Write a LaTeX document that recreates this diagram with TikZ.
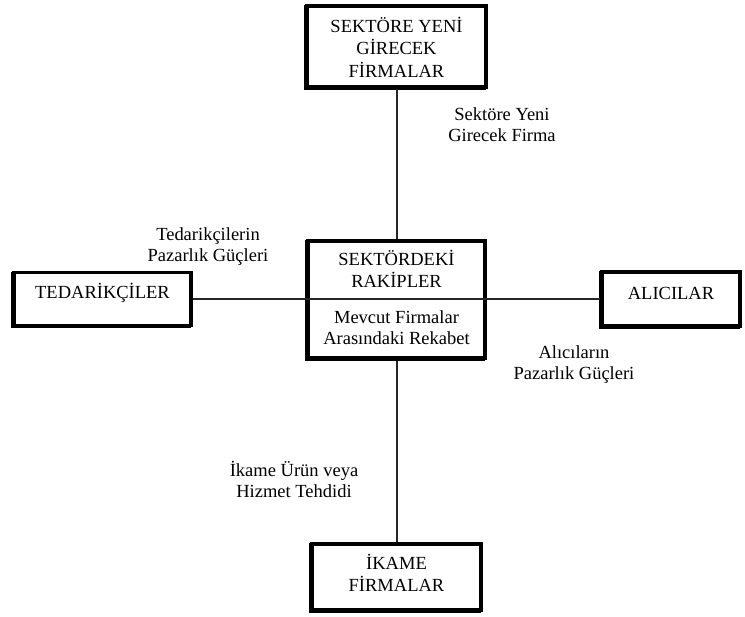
\documentclass[tikz,border=0pt]{standalone}
\usepackage{fontspec}
\setmainfont{Liberation Serif}
\newfontfamily\boxfont{Liberation Serif}
\begin{document}
\begin{tikzpicture}[x=1pt,y=-1pt,
  box/.style={draw=black, fill=white, line width=3.5pt, rectangle, inner sep=0pt,
    preaction={draw=black, line width=3.5pt, transform canvas={shift={(-1.5pt,-1pt)}}}},
  boxtext/.style={align=center, inner sep=0pt, font=\boxfont\fontsize{18.5}{22.5}\selectfont},
  note/.style={align=center, inner sep=0pt, font=\boxfont\fontsize{18.5}{21}\selectfont},
  link/.style={draw=black!85, line width=2pt}]
\useasboundingbox (0,0) rectangle (745,617);

% boxes
\node[box, minimum width=179pt, minimum height=81pt] (entrants) at (396.5,46.5) {};
\node[box, minimum width=177pt, minimum height=53pt] (suppliers) at (102.5,299) {};
\node[box, minimum width=138pt, minimum height=54pt] (buyers) at (671,299) {};
\node[box, minimum width=169pt, minimum height=66pt] (substitutes) at (396.5,577) {};

% vertical axis
\draw[link] (entrants.south) -- (396.5,241) coordinate (cn);
\draw[link] (396.5,358) coordinate (cs) -- (substitutes.north);

\node[box, minimum width=177pt, minimum height=117pt] (rivals) at (396.5,299.5) {};

% horizontal axis
\draw[link] (suppliers.east) -- (buyers.west);

% box texts
\node[boxtext] (tEntrants) at (396.5,47) {SEKTÖRE YENİ\\GİRECEK\\FİRMALAR};
\node[boxtext] (tSuppliers) at (102.5,293) {TEDARİKÇİLER};
\node[boxtext] (tBuyers) at (671,293) {ALICILAR};
\node[boxtext] (tRivals) at (396.5,269) {SEKTÖRDEKİ\\RAKİPLER};
\node[note] (tRivalry) at (396.5,328) {Mevcut Firmalar\\Arasındaki Rekabet};
\node[boxtext] (tSubst) at (396.5,573) {İKAME\\FİRMALAR};

% force labels
\node[note] (lEntry) at (502,125) {Sektöre Yeni\\Girecek Firma};
\node[note] (lSupp) at (208,247) {Tedarikçilerin\\Pazarlık Güçleri};
\node[note] (lBuy) at (574,365) {Alıcıların\\Pazarlık Güçleri};
\node[note] (lSubst) at (294,479) {İkame Ürün veya\\Hizmet Tehdidi};
\end{tikzpicture}
\end{document}
